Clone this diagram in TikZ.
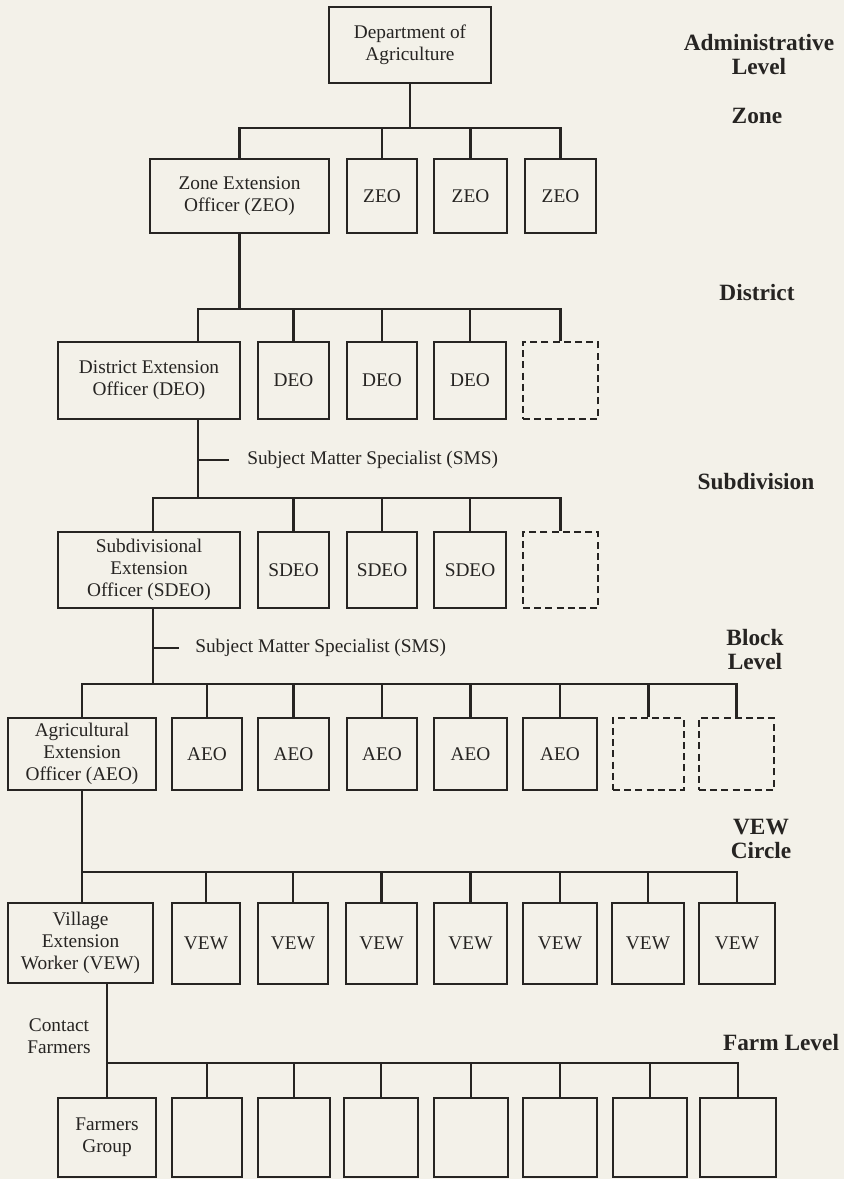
\documentclass[tikz,border=0pt]{standalone}
\usepackage{fontspec}
\setmainfont{Liberation Serif}
\definecolor{paper}{RGB}{243,241,233}
\definecolor{ink}{RGB}{38,36,34}
\newcommand\bodyfont{\fontsize{14.5}{16.3}\selectfont}
\newcommand\lvlfont{\fontsize{17.5}{18}\selectfont\bfseries}
\tikzset{
  box/.style={draw=ink, line width=1.8pt, inner sep=0pt, align=center,
    font=\bodyfont, text=ink},
  ghost/.style={box, dash pattern=on 5.2pt off 3.2pt},
  wire/.style={draw=ink, line width=1.6pt},
  lvl/.style={font=\lvlfont, align=center, text=ink},
  note/.style={font=\bodyfont, text=ink, align=center, inner sep=0pt}
}
% \orgbox[style]{name}{x1}{y1}{x2}{y2}{text}: a box given by its two corners
\newcommand\orgbox[7][box]{%
  \pgfmathsetmacro\bxcx{(#3+#5)/2}%
  \pgfmathsetmacro\bxcy{(#4+#6)/2}%
  \pgfmathsetmacro\bxw{(#5-#3)*0.75}%
  \pgfmathsetmacro\bxh{(#6-#4)*0.75}%
  \node[#1, minimum width=\bxw pt, minimum height=\bxh pt] (#2) at (\bxcx,\bxcy) {#7};%
}
\begin{document}
\begin{tikzpicture}[x=0.75pt, y=-0.75pt]
\fill[paper] (0,0) rectangle (844,1179);
\useasboundingbox (0,0) rectangle (844,1179);

% ---------- boxes ----------
\orgbox{dept}{329}{7}{491}{83}{Department of\\Agriculture}

\orgbox{zeo1}{150}{159}{329}{233}{Zone Extension\\Officer (ZEO)}
\foreach \i/\a/\b in {2/347/417, 3/434/507, 4/525/596}
  {\orgbox{zeo\i}{\a}{159}{\b}{233}{ZEO}}

\orgbox{deo1}{58}{342}{240}{419}{District Extension\\Officer (DEO)}
\foreach \i/\a/\b in {2/258/329, 3/347/417, 4/434/506}
  {\orgbox{deo\i}{\a}{342}{\b}{419}{DEO}}
\orgbox[ghost]{deo5}{523}{342}{598}{419}{}

\orgbox{sdeo1}{58}{532}{240}{608}{Subdivisional\\Extension\\Officer (SDEO)}
\foreach \i/\a/\b in {2/258/329, 3/347/417, 4/434/506}
  {\orgbox{sdeo\i}{\a}{532}{\b}{608}{SDEO}}
\orgbox[ghost]{sdeo5}{523}{532}{598}{608}{}

\orgbox{aeo1}{8}{718}{156}{790}{Agricultural\\Extension\\Officer (AEO)}
\foreach \i/\a/\b in {2/172/242, 3/258/329, 4/347/417, 5/434/507, 6/523/597}
  {\orgbox{aeo\i}{\a}{718}{\b}{790}{AEO}}
\orgbox[ghost]{aeo7}{613}{718}{684}{790}{}
\orgbox[ghost]{aeo8}{699}{718}{774}{790}{}

\orgbox{vew1}{8}{903}{153}{983}{Village\\Extension\\Worker (VEW)}
\foreach \i/\a/\b in {2/172/240, 3/258/328, 4/346/417, 5/434/507, 6/523/597, 7/612/684, 8/699/775}
  {\orgbox{vew\i}{\a}{903}{\b}{984}{VEW}}

\orgbox{f1}{58}{1098}{156}{1177}{Farmers\\Group}
\foreach \i/\a/\b in {2/172/242, 3/258/330, 4/344/418, 5/434/508, 6/523/597, 7/613/687, 8/700/776}
  {\orgbox{f\i}{\a}{1098}{\b}{1177}{}}

% ---------- zone ----------
\coordinate (zbar) at (0,128);
\draw[wire] (dept.south) -- (dept.south |- zbar);
\draw[wire] (zeo1.north) -- (zeo1.north |- zbar) -- (zeo4.north |- zbar) -- (zeo4.north);
\foreach \n in {zeo2,zeo3}
  \draw[wire] (\n.north) -- (\n.north |- zbar);

% ---------- district ----------
\coordinate (dbar) at (0,309);
\coordinate (dsp) at (198,0);
\draw[wire] (zeo1.south) -- (zeo1.south |- dbar);
\draw[wire] (deo1.north -| dsp) -- (dsp |- dbar) -- (deo5.north |- dbar) -- (deo5.north);
\foreach \n in {deo2,deo3,deo4}
  \draw[wire] (\n.north) -- (\n.north |- dbar);

% ---------- subdivision ----------
\coordinate (sbar) at (0,498);
\coordinate (ssp) at (153,0);
\coordinate (tick1) at (198,460);
\coordinate (tick1e) at (229,460);
\draw[wire] (deo1.south -| dsp) -- (dsp |- sbar);
\draw[wire] (tick1) -- (tick1e);
\node[note, anchor=west] (sms1) at (247,460) {Subject Matter Specialist (SMS)};
\draw[wire] (sdeo1.north -| ssp) -- (ssp |- sbar) -- (sdeo5.north |- sbar) -- (sdeo5.north);
\foreach \n in {sdeo2,sdeo3,sdeo4}
  \draw[wire] (\n.north) -- (\n.north |- sbar);

% ---------- block ----------
\coordinate (bbar) at (0,684);
\coordinate (tick2) at (153,648);
\coordinate (tick2e) at (179,648);
\draw[wire] (sdeo1.south -| ssp) -- (ssp |- bbar);
\draw[wire] (tick2) -- (tick2e);
\node[note, anchor=west] (sms2) at (195,648) {Subject Matter Specialist (SMS)};
\draw[wire] (aeo1.north) -- (aeo1.north |- bbar) -- (aeo8.north |- bbar) -- (aeo8.north);
\foreach \n in {aeo2,aeo3,aeo4,aeo5,aeo6,aeo7}
  \draw[wire] (\n.north) -- (\n.north |- bbar);

% ---------- VEW circle ----------
\coordinate (vbar) at (0,872);
\draw[wire] (aeo1.south) -- (aeo1.south |- vew1.north);
\draw[wire] (aeo1.south |- vbar) -- (vew8.north |- vbar) -- (vew8.north);
\foreach \n in {vew2,vew3,vew4,vew5,vew6,vew7}
  \draw[wire] (\n.north) -- (\n.north |- vbar);

% ---------- farm ----------
\coordinate (fbar) at (0,1063);
\draw[wire] (vew1.south -| f1.north) -- (f1.north);
\draw[wire] (f1.north |- fbar) -- (f8.north |- fbar) -- (f8.north);
\foreach \n in {f2,f3,f4,f5,f6,f7}
  \draw[wire] (\n.north) -- (\n.north |- fbar);
\node[note] (contact) at (59,1036) {Contact\\Farmers};

% ---------- level names ----------
\node[lvl] (l0) at (759,55) {Administrative\\Level};
\node[lvl] (l1) at (757,116) {Zone};
\node[lvl] (l2) at (757,293) {District};
\node[lvl] (l3) at (756,482) {Subdivision};
\node[lvl] (l4) at (755,650) {Block\\Level};
\node[lvl] (l5) at (761,839) {VEW\\Circle};
\node[lvl] (l6) at (781,1043) {Farm Level};
\end{tikzpicture}
\end{document}
